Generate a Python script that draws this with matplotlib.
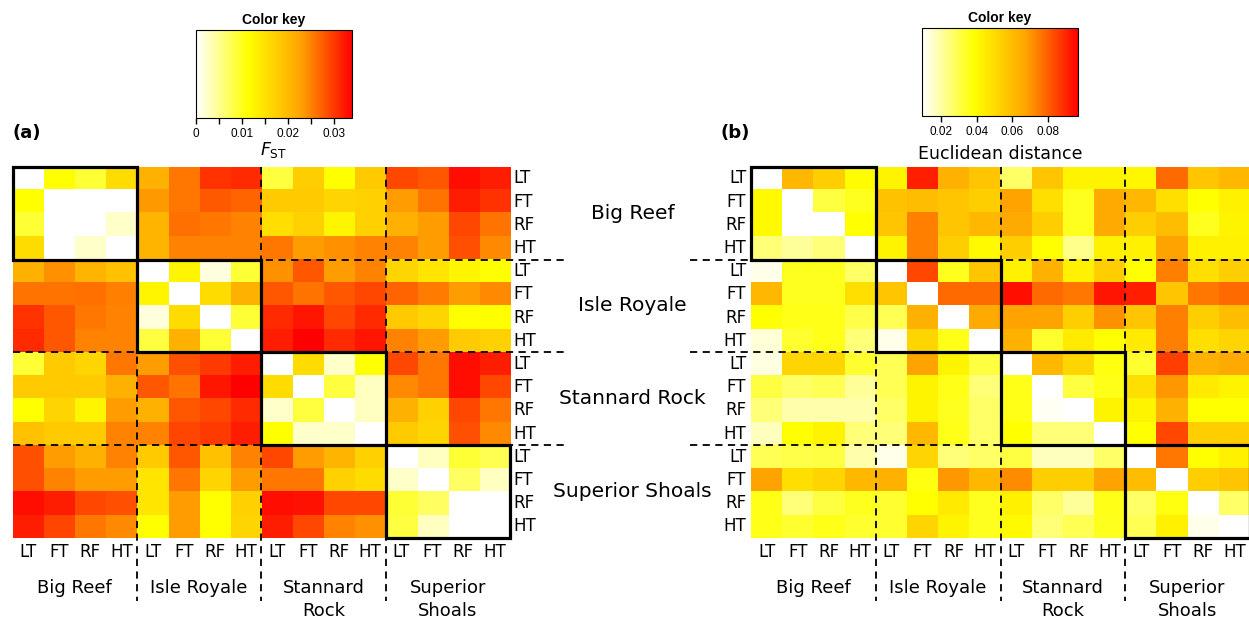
import numpy as np
import matplotlib.pyplot as plt
from matplotlib.colors import LinearSegmentedColormap
from matplotlib.patches import Rectangle

# labels
sites_right = ['Big Reef', 'Isle Royale', 'Stannard Rock', 'Superior Shoals']
sites_bottom = ['Big Reef', 'Isle Royale', 'Stannard\nRock', 'Superior\nShoals']
tissues = ['LT', 'FT', 'RF', 'HT']

# pairwise FST (rows / cols: site x tissue, 16 x 16)
fst = np.array([
    [0, 0.0113, 0.009, 0.0158, 0.021, 0.0258, 0.0305, 0.031, 0.0085, 0.0175, 0.0113, 0.018, 0.029, 0.028, 0.033, 0.032],
    [0.0113, 0, 0, 0, 0.0235, 0.0258, 0.0278, 0.027, 0.018, 0.0178, 0.0165, 0.017, 0.0232, 0.026, 0.032, 0.0305],
    [0.009, 0, 0, 0.0025, 0.0205, 0.0262, 0.0258, 0.025, 0.0155, 0.017, 0.0125, 0.017, 0.0212, 0.0232, 0.029, 0.026],
    [0.0158, 0, 0.0025, 0, 0.0205, 0.025, 0.025, 0.025, 0.0258, 0.0232, 0.024, 0.025, 0.025, 0.0232, 0.0285, 0.0245],
    [0.021, 0.024, 0.0205, 0.019, 0, 0.0125, 0.0015, 0.009, 0.024, 0.028, 0.0232, 0.025, 0.0165, 0.0145, 0.0125, 0.0113],
    [0.026, 0.026, 0.0262, 0.0252, 0.0125, 0, 0.0158, 0.021, 0.028, 0.026, 0.028, 0.029, 0.027, 0.0255, 0.0232, 0.0245],
    [0.0305, 0.028, 0.0258, 0.025, 0.0015, 0.0158, 0, 0.009, 0.031, 0.0325, 0.029, 0.031, 0.018, 0.0165, 0.0113, 0.0113],
    [0.031, 0.028, 0.025, 0.025, 0.0085, 0.021, 0.009, 0, 0.032, 0.034, 0.031, 0.0325, 0.025, 0.0232, 0.018, 0.017],
    [0.009, 0.018, 0.0165, 0.0258, 0.0232, 0.0285, 0.030, 0.032, 0, 0.0158, 0.0025, 0.0113, 0.029, 0.0258, 0.033, 0.032],
    [0.018, 0.018, 0.018, 0.021, 0.028, 0.026, 0.0325, 0.034, 0.0158, 0, 0.0085, 0.0028, 0.0245, 0.0258, 0.033, 0.029],
    [0.0113, 0.0165, 0.0125, 0.0232, 0.021, 0.028, 0.029, 0.031, 0.0025, 0.0085, 0, 0.0028, 0.021, 0.017, 0.029, 0.0258],
    [0.019, 0.018, 0.018, 0.025, 0.025, 0.0292, 0.030, 0.032, 0.0113, 0.0025, 0.0025, 0, 0.018, 0.0165, 0.0285, 0.0245],
    [0.0285, 0.0232, 0.021, 0.025, 0.018, 0.028, 0.019, 0.025, 0.029, 0.0232, 0.0205, 0.017, 0, 0.0028, 0.009, 0.0078],
    [0.0285, 0.025, 0.0232, 0.0232, 0.0145, 0.0258, 0.0165, 0.0232, 0.0258, 0.0258, 0.017, 0.0158, 0.0025, 0, 0.007, 0.0028],
    [0.033, 0.032, 0.029, 0.0285, 0.0145, 0.0232, 0.0113, 0.017, 0.033, 0.0328, 0.029, 0.029, 0.009, 0.007, 0, 0],
    [0.032, 0.0292, 0.0258, 0.0245, 0.0113, 0.0232, 0.0113, 0.0165, 0.032, 0.029, 0.025, 0.024, 0.0085, 0.0028, 0, 0],
])

# Euclidean distance
euc = np.array([
    [0, 0.062, 0.0545, 0.039, 0.042, 0.0913, 0.0635, 0.057, 0.027, 0.057, 0.042, 0.042, 0.041, 0.078, 0.057, 0.062],
    [0.040, 0, 0.0312, 0.035, 0.058, 0.060, 0.057, 0.0545, 0.068, 0.049, 0.035, 0.066, 0.062, 0.049, 0.0385, 0.043],
    [0.040, 0, 0, 0.0385, 0.057, 0.0743, 0.057, 0.062, 0.066, 0.0545, 0.035, 0.066, 0.0545, 0.060, 0.035, 0.042],
    [0.025, 0.021, 0.025, 0, 0.042, 0.0743, 0.0545, 0.040, 0.0545, 0.0385, 0.023, 0.043, 0.043, 0.068, 0.043, 0.043],
    [0.012, 0.035, 0.035, 0.027, 0, 0.084, 0.035, 0.057, 0.043, 0.0635, 0.043, 0.0545, 0.0385, 0.0743, 0.049, 0.0545],
    [0.062, 0.035, 0.035, 0.049, 0.057, 0, 0.078, 0.078, 0.094, 0.078, 0.076, 0.093, 0.0913, 0.057, 0.076, 0.078],
    [0.0385, 0.036, 0.036, 0.030, 0.029, 0.0635, 0, 0.066, 0.068, 0.068, 0.0545, 0.071, 0.057, 0.0743, 0.0545, 0.060],
    [0.014, 0.033, 0.036, 0.025, 0.012, 0.052, 0.036, 0, 0.0635, 0.033, 0.045, 0.0385, 0.045, 0.0743, 0.049, 0.052],
    [0.013, 0.052, 0.052, 0.033, 0.029, 0.068, 0.042, 0.031, 0, 0.062, 0.052, 0.037, 0.033, 0.0857, 0.0635, 0.066],
    [0.031, 0.027, 0.029, 0.021, 0.029, 0.042, 0.036, 0.025, 0.036, 0, 0.031, 0.036, 0.049, 0.070, 0.045, 0.042],
    [0.025, 0.019, 0.019, 0.019, 0.027, 0.042, 0.035, 0.027, 0.036, 0.011, 0, 0.042, 0.042, 0.0635, 0.0385, 0.0385],
    [0.017, 0.0385, 0.042, 0.025, 0.025, 0.062, 0.036, 0.027, 0.0385, 0.025, 0.025, 0, 0.0385, 0.084, 0.0545, 0.0545],
    [0.029, 0.030, 0.031, 0.019, 0.012, 0.052, 0.025, 0.027, 0.031, 0.017, 0.017, 0.027, 0, 0.076, 0.0385, 0.043],
    [0.068, 0.049, 0.052, 0.062, 0.0635, 0.037, 0.070, 0.062, 0.072, 0.0545, 0.0545, 0.068, 0.060, 0, 0.0545, 0.057],
    [0.036, 0.025, 0.031, 0.035, 0.033, 0.0385, 0.045, 0.035, 0.043, 0.027, 0.021, 0.036, 0.027, 0.037, 0, 0.027],
    [0.036, 0.033, 0.036, 0.033, 0.033, 0.052, 0.042, 0.035, 0.040, 0.025, 0.029, 0.035, 0.029, 0.043, 0.012, 0],
])

fst_range = (0, 0.034)
euc_range = (0.0093, 0.097)
fst_ticks = [0, 0.005, 0.01, 0.015, 0.02, 0.025, 0.03]
fst_ticklabels = ['0', '', '0.01', '', '0.02', '', '0.03']
euc_ticks = [0.02, 0.04, 0.06, 0.08]
euc_ticklabels = ['0.02', '0.04', '0.06', '0.08']

cmap = LinearSegmentedColormap.from_list('wyor', ['white', 'yellow', 'orange', 'red'])
cmap.set_under('white')

W, H = 1249, 623
fig = plt.figure(figsize=(W / 100, H / 100), dpi=100)
lab_font = dict(family='DejaVu Sans', fontsize=12)


def rect(l, t, r, b):
    return [l / W, 1 - b / H, (r - l) / W, (b - t) / H]


def heat(ax, data, vmin, vmax, right_labels):
    im = ax.imshow(data, cmap=cmap, vmin=vmin, vmax=vmax, aspect='auto',
                   interpolation='nearest', extent=(0, 16, 16, 0))
    ax.set_xlim(0, 16)
    ax.set_ylim(16, 0)
    ax.axis('off')
    # dashed block boundaries
    for k in (4, 8, 12):
        ax.plot([k, k], [0, 18.7], color='k', lw=1.3, ls=(0, (4, 3)), clip_on=False)
        if right_labels:
            ax.plot([0, 17.9], [k, k], color='k', lw=1.3, ls=(0, (4, 3)), clip_on=False)
        else:
            ax.plot([-1.95, 16], [k, k], color='k', lw=1.3, ls=(0, (4, 3)), clip_on=False)
    # diagonal blocks
    for g in range(4):
        ax.add_patch(Rectangle((4 * g, 4 * g), 4, 4, fill=False, ec='k', lw=2.3,
                               clip_on=False, zorder=5))
    for i in range(16):
        if right_labels:
            ax.text(16.12, i + 0.5, tissues[i % 4], ha='left', va='center', **lab_font)
        else:
            ax.text(-0.15, i + 0.5, tissues[i % 4], ha='right', va='center', **lab_font)
        ax.text(i + 0.5, 16.62, tissues[i % 4], ha='center', va='center', **lab_font)
    for g in range(4):
        ax.text(4 * g + 2, 17.78, sites_bottom[g], ha='center', va='top',
                family='DejaVu Sans', fontsize=13, linespacing=1.3)
    return im


def key(cax, im, ticks, labels, title, pad):
    cb = fig.colorbar(im, cax=cax, orientation='horizontal')
    cb.set_ticks(ticks)
    cb.set_ticklabels(labels)
    cb.outline.set_linewidth(0.8)
    cax.tick_params(axis='x', direction='out', length=4, width=1, labelsize=8.5, pad=3)
    for t in cax.get_xticklabels():
        t.set_family('Liberation Sans')
    cax.set_title('Color key', fontsize=10, fontweight='bold', family='Liberation Sans', pad=4)
    cax.set_xlabel(title, fontsize=12.5, family='DejaVu Sans', labelpad=pad)


# panel (a)
ax_a = fig.add_axes(rect(12.7, 166.7, 510, 538))
im_a = heat(ax_a, fst, *fst_range, right_labels=True)
for g in range(4):
    ax_a.text(19.95, 4 * g + 2, sites_right[g], ha='center', va='center',
              family='DejaVu Sans', fontsize=14.5)
cax_a = fig.add_axes(rect(196, 30, 352, 118))
key(cax_a, im_a, fst_ticks, fst_ticklabels, r'$F_{\mathrm{ST}}$', 0)
fig.text(12 / W, 1 - 133 / H, '(a)', fontsize=13, fontweight='bold', va='center', ha='left')

# panel (b)
ax_b = fig.add_axes(rect(751, 166.7, 1250, 538))
im_b = heat(ax_b, euc, *euc_range, right_labels=False)
cax_b = fig.add_axes(rect(922, 28, 1078, 116))
key(cax_b, im_b, euc_ticks, euc_ticklabels, 'Euclidean distance', 5)
fig.text(720 / W, 1 - 133 / H, '(b)', fontsize=13, fontweight='bold', va='center', ha='left')

fig.savefig('out.png', dpi=100)
